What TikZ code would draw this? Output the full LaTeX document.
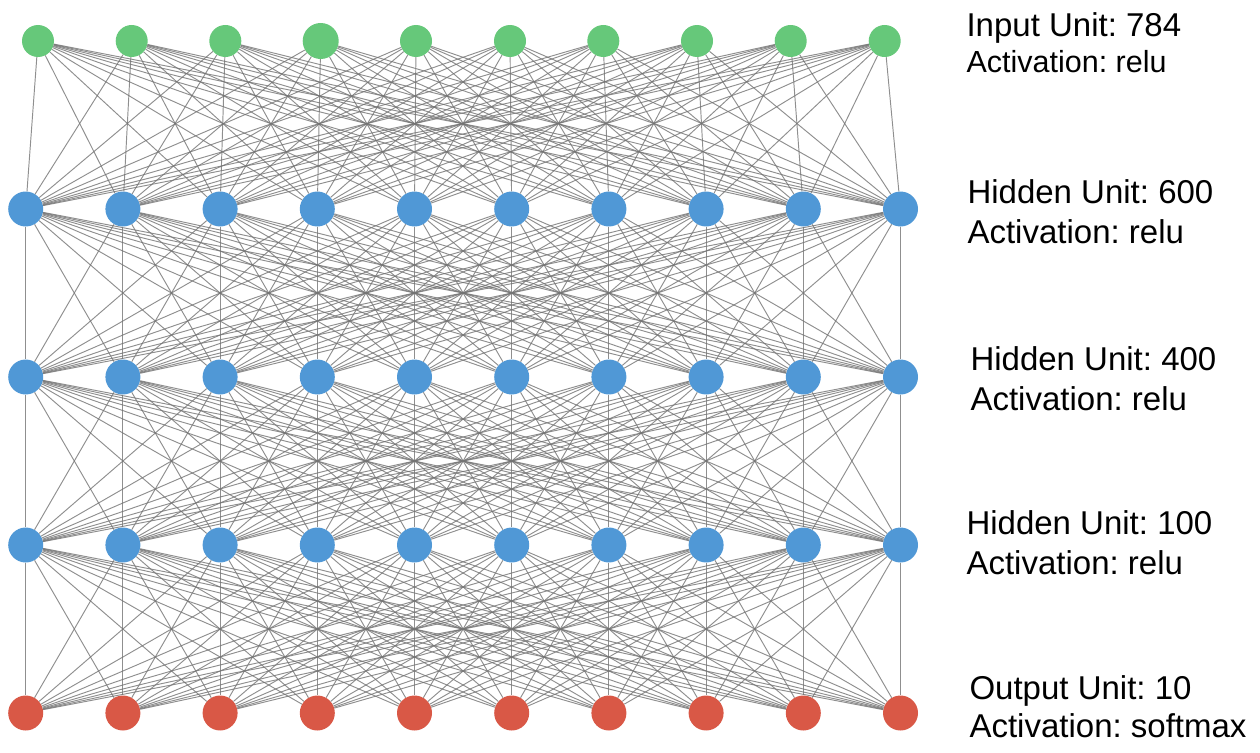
\documentclass[tikz,border=0pt]{standalone}
\usepackage{fontspec}
\setmainfont{Liberation Sans}
\definecolor{ingreen}{RGB}{102,200,122}
\definecolor{hidblue}{RGB}{80,152,214}
\definecolor{outred}{RGB}{217,88,70}
\definecolor{edgegray}{RGB}{115,115,115}
\begin{document}
\frenchspacing
\begin{tikzpicture}[x=1pt,y=-1pt,
  unit/.style={circle,inner sep=0pt,minimum size=35pt,draw=none},
  inunit/.style={unit,fill=ingreen,minimum size=32pt},
  hidunit/.style={unit,fill=hidblue},
  outunit/.style={unit,fill=outred},
  edge/.style={draw=edgegray,line width=0.95pt,opacity=0.8},
  lbl/.style={anchor=base west,font=\fontsize{33}{33}\selectfont},
  lblsmall/.style={anchor=base west,font=\fontsize{30.5}{30.5}\selectfont}]
\useasboundingbox (0,0) rectangle (1260,752);
% input layer
\foreach \x [count=\i] in {38,131.7,225.3,320.7,416,510,603.3,697,790.7,884.7}
  \node[inunit] (in\i) at (\x,41) {};
\node[inunit,minimum size=36pt] (in4) at (320.7,41) {};
% hidden and output layers
\foreach \i in {1,...,10}{
  \pgfmathsetmacro{\xx}{25.7+97.2*(\i-1)}
  \node[hidunit] (ha\i) at (\xx,209) {};
  \node[hidunit] (hb\i) at (\xx,377) {};
  \node[hidunit] (hc\i) at (\xx,545) {};
  \node[outunit] (out\i) at (\xx,713) {};
}
% connections
\foreach \i in {1,...,10}{
  \foreach \j in {1,...,10}{
    \draw[edge] (in\i) -- (ha\j);
    \draw[edge] (ha\i) -- (hb\j);
    \draw[edge] (hb\i) -- (hc\j);
    \draw[edge] (hc\i) -- (out\j);
  }
}
% labels
\node[lbl] (l1a) at (963,37) {Input Unit: 784};
\node[lblsmall] (l1b) at (963,73) {Activation: relu};
\node[lbl] (l2a) at (964,203) {Hidden Unit: 600};
\node[lbl] (l2b) at (964,243) {Activation: relu};
\node[lbl] (l3a) at (967,370) {Hidden Unit: 400};
\node[lbl] (l3b) at (967,410) {Activation: relu};
\node[lbl] (l4a) at (963,534) {Hidden Unit: 100};
\node[lbl] (l4b) at (963,574) {Activation: relu};
\node[lbl] (l5a) at (966,699) {Output Unit: 10};
\node[lbl] (l5b) at (966,737) {Activation: softmax};
\end{tikzpicture}
\end{document}
